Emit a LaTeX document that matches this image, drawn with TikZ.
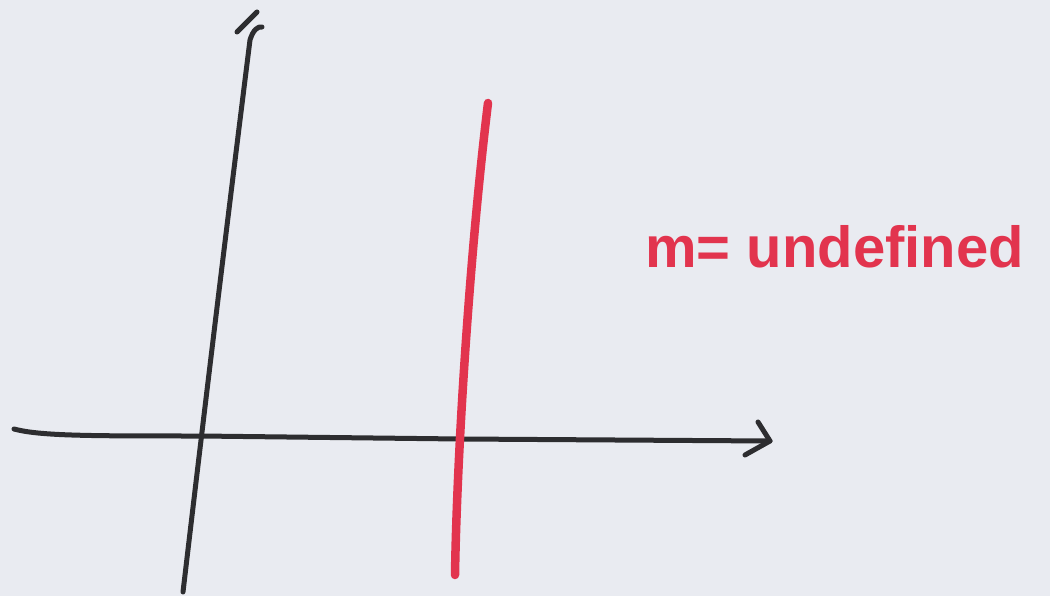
\documentclass[tikz,border=0pt]{standalone}
\usepackage{fontspec}
\setmainfont{Liberation Sans}
\definecolor{paper}{RGB}{233,235,241}
\definecolor{ink}{RGB}{45,45,48}
\definecolor{redink}{RGB}{226,52,78}
\begin{document}
\begin{tikzpicture}[x=1pt,y=-1pt,
  axisline/.style={draw=ink,line width=5pt,line cap=round,line join=round},
  redline/.style={draw=redink,line width=8.5pt,line cap=round},
  label/.style={text=redink,font=\bfseries\fontsize{58}{66}\selectfont,inner sep=0pt,anchor=base west}]
\fill[paper] (0,0) rectangle (1050,596);
\useasboundingbox (0,0) rectangle (1050,596);
% coordinates
\coordinate (xs) at (14,429);
\coordinate (xe) at (770,441);
\coordinate (ys) at (183,592);
\coordinate (ye) at (262,27);
\coordinate (rs) at (455,575);
\coordinate (re) at (488,103);
% x-axis
\draw[axisline] (xs) .. controls (40,436) and (90,436) .. (200,436) -- (460,439) -- (xe);
\draw[axisline] (758,422) -- (xe) -- (745,455);
% y-axis
\draw[axisline] (ys) .. controls (215,320) and (240,120) .. (250,40) .. controls (253,30) and (258,26) .. (ye);
\draw[axisline] (237,32) -- (257,12);
% red vertical line
\draw[redline] (rs) .. controls (457,450) and (470,250) .. (re);
\node[label] (m) at (645,268) {m= undefined};
\end{tikzpicture}
\end{document}
